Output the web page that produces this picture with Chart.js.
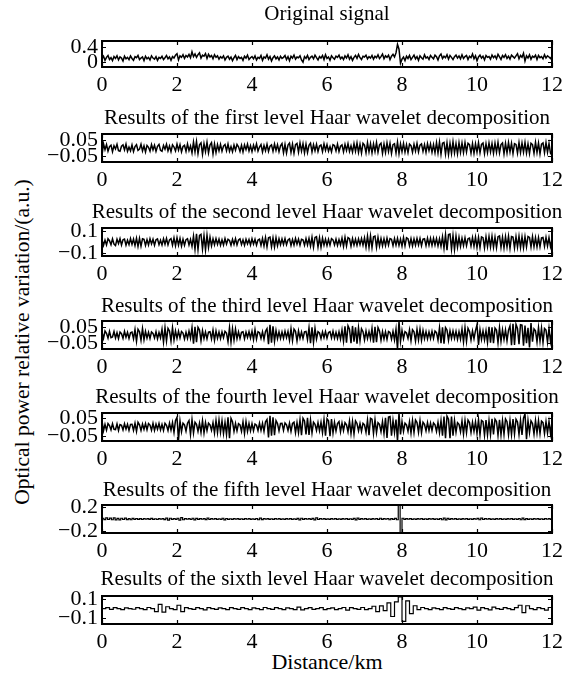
<!DOCTYPE html>
<html>
<head>
<meta charset="utf-8">
<script src="https://cdn.jsdelivr.net/npm/chart.js@4.4.1/dist/chart.umd.min.js"></script>
<style>
    body { margin: 0; background: #fff; width: 578px; height: 674px; position: relative; overflow: hidden; font-family: "Liberation Serif", "Times New Roman", serif; color: #000; }
    .panel { position: absolute; left: 0; width: 578px; }
    #ylab { position: absolute; left: 22px; top: 342px; transform: translate(-50%, -50%) rotate(-90deg); white-space: nowrap; font-size: 21.5px; }
    #xlab { position: absolute; left: 327px; top: 662px; transform: translate(-50%, -50%); white-space: nowrap; font-size: 22px; }
</style>
</head>
<body>
<div id="ylab">Optical power relative variation/(a.u.)</div>
<div id="xlab">Distance/km</div>
<script>
// distance axis (km)
var xTicks = [0, 2, 4, 6, 8, 10, 12];

var titles = [
    'Original signal',
    'Results of the first level Haar wavelet decomposition',
    'Results of the second level Haar wavelet decomposition',
    'Results of the third level Haar wavelet decomposition',
    'Results of the fourth level Haar wavelet decomposition',
    'Results of the fifth level Haar wavelet decomposition',
    'Results of the sixth level Haar wavelet decomposition'
];

// y tick values per panel
var yTicks0 = [0, 0.4];
var yTicks1 = [-0.05, 0.05];
var yTicks2 = [-0.1, 0.1];
var yTicks3 = [-0.05, 0.05];
var yTicks4 = [-0.05, 0.05];
var yTicks5 = [-0.2, 0.2];
var yTicks6 = [-0.1, 0.1];

// samples, evenly spaced over 0 .. 12 km
var original = [
    0.08,0.15,0.04,0.12,0.17,0.06,0.11,0.03,0.14,0.09,0.16,0.05,0.13,0.10,0.02,0.15,0.08,0.12,0.06,0.16,
    0.09,0.04,0.14,0.11,0.17,0.06,0.10,0.13,0.03,0.15,0.08,0.12,0.05,0.16,0.10,0.07,0.14,0.04,0.12,0.09,
    0.15,0.06,0.11,0.17,0.08,0.13,0.04,0.14,0.10,0.18,0.22,0.05,0.16,0.12,0.19,0.09,0.17,0.13,0.20,0.11,
    0.27,0.14,0.21,0.12,0.19,0.24,0.10,0.18,0.15,0.22,0.09,0.20,0.13,0.17,0.08,0.19,0.12,0.16,0.07,0.14,
    0.10,0.16,0.05,0.12,0.15,0.07,0.13,0.03,0.11,0.17,0.06,0.14,0.09,0.12,0.04,0.15,0.10,0.18,0.06,0.11,
    0.14,0.08,0.16,0.05,0.12,0.09,0.17,0.04,0.13,0.10,0.19,0.07,0.14,0.02,0.11,0.16,0.08,0.13,0.05,0.15,
    0.09,0.12,0.17,0.06,0.14,0.03,0.15,0.10,0.18,0.07,0.13,0.11,0.16,0.05,-0.01,0.14,0.09,0.17,0.06,0.12,
    0.15,0.08,0.18,0.11,0.05,0.14,0.10,0.17,0.06,0.19,0.09,0.13,0.04,0.16,0.11,0.07,0.15,0.12,0.18,0.08,
    0.13,0.06,0.16,0.10,0.19,0.07,0.14,0.04,0.12,0.17,0.09,0.20,0.11,0.06,0.15,0.13,0.18,0.08,0.14,0.10,
    0.17,0.07,0.15,0.11,0.19,0.09,0.14,0.21,0.08,0.16,0.12,0.18,0.06,0.15,0.20,0.13,0.24,0.47,0.34,-0.04,
    0.07,0.13,0.03,0.15,0.09,0.17,0.06,0.12,0.18,0.08,0.14,0.04,0.16,0.11,0.07,0.19,0.10,0.13,0.06,0.17,
    0.12,0.08,0.18,0.14,0.05,0.16,0.21,0.09,0.15,0.11,0.19,0.07,0.17,0.12,0.06,0.14,0.18,0.10,0.16,0.08,
    0.19,0.09,0.14,0.17,0.06,0.15,0.11,0.21,0.08,0.16,0.03,0.13,0.18,0.10,0.15,0.05,0.17,0.12,0.14,0.07,
    0.18,0.11,0.16,0.08,0.20,0.13,0.06,0.17,0.12,0.19,0.09,0.15,0.07,0.18,0.14,0.10,0.16,0.22,0.08,0.17,
    0.12,0.23,0.02,0.16,0.10,0.19,0.07,0.15,0.12,0.18,0.06,0.17,0.11,0.14,0.08,0.19,0.10,0.16,0.13,0.09,
    0.15
];

var level1 = [
    -0.045,0.026,-0.01,0.021,-0.019,0.008,0.017,-0.023,0.014,-0.006,0.022,-0.016,-0.02,0.011,0.019,-0.012,0.024,-0.02,0.005,-0.017,
    0.018,-0.022,0.009,0.02,-0.015,-0.007,0.023,-0.018,0.013,-0.024,0.016,0.004,-0.019,0.021,-0.011,0.017,-0.021,0.01,0.022,-0.014,
    -0.02,0.015,-0.008,0.023,-0.017,0.012,-0.022,0.019,0.006,-0.018,0.024,-0.013,0.02,-0.023,0.009,0.016,-0.02,0.025,-0.016,0.013,
    -0.03,0.036,-0.024,0.04,-0.034,0.02,0.031,-0.038,0.027,-0.022,0.035,-0.03,0.018,0.032,-0.036,0.025,-0.028,0.021,-0.017,0.022,
    -0.019,0.012,0.021,-0.016,0.024,-0.02,0.009,-0.023,0.018,-0.013,0.022,0.007,-0.021,0.016,-0.024,0.019,-0.01,0.023,-0.018,0.014,
    -0.022,0.017,-0.012,0.025,-0.019,0.006,0.021,-0.024,0.015,-0.017,0.023,-0.021,0.011,0.019,-0.02,0.024,-0.015,0.02,-0.023,0.013,
    0.027,-0.029,0.022,-0.031,0.018,0.03,-0.026,0.024,-0.032,0.02,0.028,-0.025,0.031,-0.019,0.026,-0.03,0.023,-0.028,0.016,0.029,
    -0.024,0.02,-0.017,0.023,-0.021,0.012,0.018,-0.022,0.025,-0.014,0.021,-0.019,0.009,-0.023,0.02,0.015,-0.018,0.024,-0.021,0.011,
    0.019,-0.023,0.022,-0.015,0.026,-0.021,0.013,-0.025,0.027,-0.02,0.03,-0.027,0.022,-0.031,0.028,0.017,-0.029,0.032,-0.024,0.026,
    -0.03,0.025,-0.022,0.033,-0.026,0.019,0.029,-0.032,0.024,-0.027,0.031,-0.021,0.028,-0.033,0.02,0.026,-0.03,0.036,-0.034,0.025,
    -0.022,0.027,-0.025,0.02,-0.028,0.024,0.014,-0.026,0.023,-0.019,0.028,-0.024,0.017,0.025,-0.021,0.02,-0.027,0.026,-0.016,0.024,
    -0.026,0.021,-0.029,0.032,-0.03,0.036,-0.038,0.029,0.034,-0.037,0.031,-0.04,0.028,-0.033,0.038,-0.03,0.026,-0.035,0.032,-0.027,
    0.03,-0.028,0.033,-0.024,0.029,0.02,-0.031,0.027,-0.033,0.025,-0.026,0.032,-0.029,0.022,0.03,-0.034,0.026,-0.028,0.031,-0.023,
    0.027,-0.032,0.03,-0.026,0.034,-0.029,0.021,0.031,-0.035,0.028,-0.03,0.033,-0.024,0.029,-0.034,0.027,0.022,-0.031,0.033,-0.028,
    0.03,-0.026,0.034,-0.031,0.025,-0.033,0.029,0.021,-0.032,0.035,-0.027,0.03,-0.035,0.024,0.031,-0.029,0.033,-0.026,0.028,-0.032,
    -0.045
];

var level2 = [
    0.024,-0.031,0.018,-0.027,0.03,0.012,-0.025,0.029,-0.02,-0.033,0.026,-0.015,0.031,-0.028,0.02,0.027,-0.03,0.016,-0.024,0.032,
    -0.022,0.028,-0.033,0.036,-0.04,0.034,-0.038,0.03,0.025,-0.032,0.022,-0.028,0.031,-0.018,0.026,-0.03,0.02,0.029,-0.025,0.017,
    -0.028,0.03,-0.021,0.034,-0.027,0.02,0.032,-0.03,0.038,-0.035,0.04,-0.029,0.033,-0.037,0.026,-0.03,0.022,0.031,-0.027,0.024,
    -0.04,0.055,-0.068,0.075,-0.07,0.062,0.072,-0.066,0.058,-0.074,0.064,-0.05,0.044,-0.036,0.03,-0.026,0.031,-0.022,0.027,-0.03,
    0.021,-0.028,0.032,-0.019,0.026,0.014,-0.03,0.025,-0.022,0.031,-0.027,0.018,0.029,-0.024,0.02,-0.031,0.026,-0.017,0.023,-0.028,
    0.03,-0.02,0.025,-0.029,0.018,0.027,-0.031,0.034,-0.036,0.042,-0.045,0.04,0.046,-0.044,0.038,-0.047,0.041,-0.035,0.03,-0.026,
    0.028,-0.023,0.031,-0.026,0.019,0.029,-0.032,0.024,-0.028,0.033,-0.021,0.027,-0.03,0.025,0.02,-0.029,0.032,-0.027,0.034,-0.038,
    0.044,-0.048,0.042,0.05,-0.046,0.04,-0.049,0.036,-0.03,0.027,-0.032,0.025,-0.029,0.031,0.02,-0.028,0.026,-0.031,0.023,-0.027,
    0.036,-0.04,0.044,-0.037,0.041,0.03,-0.038,0.032,-0.028,0.026,-0.031,0.029,-0.024,0.033,-0.03,0.038,-0.048,0.054,-0.05,0.057,
    -0.052,0.048,0.055,-0.05,0.044,-0.038,0.033,-0.035,0.03,-0.033,0.036,-0.028,0.031,0.025,-0.034,0.032,-0.029,0.035,-0.031,0.027,
    -0.038,0.042,-0.036,0.04,0.03,-0.034,0.031,-0.036,0.028,-0.03,0.033,-0.027,0.032,-0.035,0.026,0.03,-0.033,0.036,-0.029,0.034,
    -0.031,0.035,-0.028,0.033,-0.036,0.03,-0.04,0.048,-0.058,0.068,-0.076,0.07,0.074,-0.066,0.06,-0.07,0.054,-0.048,0.044,-0.04,
    0.036,-0.033,0.04,-0.035,0.031,0.037,-0.036,0.042,-0.039,0.046,-0.05,0.043,-0.052,0.047,0.04,-0.054,0.049,-0.044,0.051,-0.046,
    0.053,-0.049,0.045,-0.052,0.048,0.056,-0.05,0.044,-0.055,0.049,-0.046,0.053,-0.058,0.05,0.045,-0.055,0.05,-0.047,0.054,-0.051,
    0.048,-0.053,0.05,-0.045,0.052,0.043,-0.046,0.049,-0.044,0.04,-0.045,0.041,-0.043,0.038,0.042,-0.04,0.043,-0.037,0.04,-0.042,
    0.02
];

var level3 = [
    0.016,-0.02,0.024,0.01,-0.019,0.022,-0.016,-0.012,0.021,-0.018,0.014,-0.022,0.018,0.008,-0.02,0.023,-0.013,0.016,-0.021,0.014,
    0.018,-0.023,0.033,-0.038,0.035,0.02,-0.032,0.039,-0.028,0.022,-0.019,0.016,-0.021,0.019,0.01,-0.018,0.02,-0.023,0.015,-0.017,
    0.035,-0.043,0.045,-0.036,0.041,0.025,-0.037,0.044,-0.03,0.025,-0.02,0.023,-0.018,0.021,0.012,-0.024,0.017,-0.02,0.024,-0.019,
    0.045,-0.052,0.05,-0.044,0.047,0.03,-0.035,0.027,-0.021,0.019,-0.023,0.017,0.02,-0.024,0.03,-0.032,0.025,-0.02,0.018,-0.022,
    0.019,-0.016,0.022,0.012,-0.04,0.045,-0.043,0.038,-0.031,0.036,-0.022,0.019,-0.021,0.016,0.02,-0.023,0.018,-0.015,0.02,-0.019,
    0.023,-0.028,0.032,-0.025,0.02,0.014,-0.021,0.019,-0.025,0.022,0.038,-0.056,0.062,-0.047,0.052,-0.038,0.028,-0.022,0.019,-0.021,
    0.018,-0.02,0.023,-0.016,0.021,-0.032,0.038,-0.034,0.036,0.022,-0.035,0.025,-0.02,0.018,-0.021,0.019,0.022,-0.028,0.044,-0.05,
    0.047,-0.045,0.04,-0.025,0.02,0.012,-0.022,0.019,-0.016,0.021,-0.019,0.015,0.02,-0.018,0.023,-0.02,0.016,-0.021,0.019,-0.025,
    0.031,-0.038,0.052,-0.047,0.056,0.035,-0.05,0.055,-0.04,0.047,-0.052,0.044,-0.035,0.038,0.02,-0.03,0.025,-0.022,0.02,-0.024,
    0.04,-0.047,0.05,-0.044,0.046,0.025,-0.032,0.021,-0.024,0.02,-0.026,0.021,0.015,-0.025,0.022,-0.03,0.035,-0.085,0.085,-0.038,
    0.028,-0.022,0.02,0.012,-0.021,0.031,-0.035,0.032,0.02,-0.037,0.034,-0.03,0.036,-0.032,0.027,-0.022,0.02,-0.024,0.019,-0.021,
    0.022,-0.02,0.024,0.014,-0.031,0.044,-0.05,0.047,-0.052,0.045,0.03,-0.032,0.025,-0.021,0.024,-0.02,0.022,-0.026,0.021,-0.025,
    0.037,-0.042,0.045,-0.038,0.041,0.022,-0.03,0.025,-0.022,0.027,0.062,-0.06,0.032,-0.027,0.025,-0.03,0.026,-0.044,0.05,-0.046,
    0.047,-0.05,0.042,0.03,-0.047,0.045,-0.038,0.032,-0.027,0.031,-0.035,0.03,0.056,-0.062,0.068,-0.06,0.065,0.04,-0.056,0.062,
    0.06,-0.065,0.057,-0.05,0.044,-0.075,0.072,-0.04,0.037,0.025,-0.042,0.045,-0.037,0.042,-0.046,0.04,0.03,-0.044,0.041,-0.039,
    0.02
];

var level4 = [
    0.035,-0.022,0.015,-0.018,0.02,0.008,-0.016,0.019,-0.013,-0.015,0.018,-0.02,0.014,0.01,-0.017,0.019,-0.012,0.016,-0.019,0.015,
    0.016,-0.019,0.022,-0.025,0.027,0.012,-0.02,0.017,-0.014,0.019,-0.016,0.02,0.011,-0.018,0.021,-0.019,0.016,-0.013,0.02,-0.017,
    0.015,-0.019,0.021,0.01,-0.02,0.022,-0.018,0.025,-0.031,0.037,0.055,-0.075,0.035,-0.027,0.022,0.012,-0.024,0.022,0.037,-0.043,
    0.042,-0.034,0.027,0.015,-0.025,0.022,-0.031,0.037,-0.034,0.025,-0.02,0.022,0.012,-0.019,0.025,-0.034,0.037,-0.032,0.04,-0.03,
    0.035,-0.037,0.027,-0.043,0.055,-0.064,0.05,0.03,-0.025,0.02,-0.022,0.019,0.012,-0.025,0.03,-0.037,0.032,-0.025,0.02,-0.022,
    0.019,-0.021,0.017,0.01,-0.02,0.022,-0.019,0.021,-0.025,0.03,0.043,-0.06,0.064,-0.05,0.055,-0.047,0.037,0.02,-0.022,0.02,
    0.021,-0.019,0.023,0.012,-0.02,0.022,-0.025,0.02,0.027,-0.032,0.025,-0.032,0.04,-0.047,0.05,0.035,-0.043,0.052,-0.045,0.04,
    -0.034,0.027,0.015,-0.02,0.025,-0.022,0.027,-0.032,0.043,-0.05,0.047,0.035,-0.052,0.045,-0.034,0.027,-0.022,0.02,0.031,-0.027,
    0.022,-0.02,0.025,0.012,-0.027,0.034,-0.037,0.032,-0.04,0.035,0.02,-0.022,0.02,-0.024,0.021,0.012,-0.03,0.04,-0.047,0.05,
    0.045,-0.037,0.042,-0.032,0.025,0.015,-0.027,0.031,-0.037,0.052,-0.062,0.057,0.06,-0.05,0.037,-0.031,0.043,-0.08,0.08,-0.043,
    0.031,-0.025,0.022,0.012,-0.025,0.03,-0.035,0.037,-0.032,0.04,0.025,-0.031,0.037,-0.032,0.027,0.015,-0.022,0.025,-0.02,0.022,
    -0.02,0.023,0.012,-0.025,0.027,-0.032,0.037,-0.05,0.06,-0.064,0.062,0.045,-0.064,0.06,-0.05,0.037,-0.03,0.025,0.015,-0.027,
    0.035,-0.04,0.037,-0.032,0.04,0.025,-0.031,0.027,-0.025,0.03,-0.037,0.042,-0.045,0.037,0.03,-0.047,0.04,-0.045,0.037,-0.043,
    0.047,-0.042,0.045,0.032,-0.047,0.041,-0.045,0.037,-0.042,0.046,0.03,-0.044,0.037,-0.043,0.046,-0.04,0.044,0.028,-0.042,0.038,
    -0.045,0.05,0.075,-0.07,0.037,-0.032,0.035,0.02,-0.04,0.037,-0.034,0.036,-0.038,0.034,0.025,-0.037,0.031,-0.034,0.032,-0.037,
    0.03
];

var level5 = [
    0.012,-0.01,0.018,-0.008,0.015,-0.012,0.02,-0.014,0.01,-0.016,0.012,-0.008,0.014,-0.01,0.006,-0.012,0.01,-0.006,0.008,-0.005,
    0.006,-0.008,0.005,-0.004,0.007,-0.006,0.01,-0.005,0.004,-0.008,0.006,-0.004,0.005,-0.01,0.015,-0.02,0.012,-0.006,0.008,-0.005,
    0.012,-0.018,0.022,-0.012,0.006,-0.004,0.005,-0.008,0.012,-0.015,0.01,-0.006,0.005,-0.004,0.006,-0.01,0.014,-0.008,0.005,-0.004,
    0.006,-0.005,0.004,-0.006,0.012,-0.015,0.008,-0.005,0.004,-0.006,0.005,-0.004,0.006,-0.005,0.004,-0.006,0.005,-0.004,0.006,-0.005,
    0.004,-0.006,0.008,-0.012,0.016,-0.01,0.005,-0.004,0.006,-0.005,0.004,-0.006,0.005,-0.004,0.006,-0.005,0.004,-0.006,0.005,-0.004,
    0.006,-0.005,0.004,-0.006,0.01,-0.014,0.012,-0.006,0.005,-0.004,0.006,-0.005,0.01,-0.015,0.018,-0.008,0.005,-0.004,0.006,-0.005,
    0.004,-0.006,0.005,-0.004,0.006,-0.005,0.004,-0.006,0.005,-0.004,0.006,-0.005,0.004,-0.006,0.01,-0.016,0.014,-0.006,0.005,-0.004,
    0.006,-0.005,0.004,-0.006,0.005,-0.004,0.006,-0.008,0.012,-0.006,0.005,-0.004,0.008,-0.012,0.006,-0.005,0.01,-0.012,0.23,-0.23,
    0.012,-0.006,0.005,-0.004,0.006,-0.005,0.004,-0.006,0.005,-0.004,0.006,-0.005,0.004,-0.006,0.005,-0.004,0.006,-0.005,0.004,-0.006,
    0.008,-0.012,0.016,-0.014,0.01,-0.006,0.005,-0.004,0.006,-0.005,0.004,-0.006,0.005,-0.004,0.006,-0.005,0.004,-0.006,0.005,-0.004,
    0.01,-0.012,0.014,-0.008,0.005,-0.004,0.006,-0.005,0.004,-0.006,0.005,-0.004,0.006,-0.005,0.004,-0.006,0.005,-0.004,0.006,-0.005,
    0.004,-0.006,0.008,-0.012,0.016,-0.01,0.006,-0.005,0.004,-0.006,0.005,-0.004,0.006,-0.005,0.004,-0.006,0.005,-0.004,0.006,-0.005,
    0.005
];

var level6 = [
    0,0.01,-0.008,0.01,0,-0.01,0.008,0,-0.006,0.01,
    0,-0.01,0.012,0,-0.03,0.045,-0.035,0.02,0,-0.01,
    0.035,-0.03,0.01,0,-0.008,0.01,0,-0.012,0.01,0,
    -0.008,0.008,0,-0.01,0.01,0,-0.008,0.01,0,-0.01,
    0.008,0,-0.01,0.012,0,-0.008,0.01,0,-0.01,0.008,
    0,-0.01,0.015,-0.012,0,0.01,-0.008,0,0.01,-0.01,
    0,0.008,-0.01,0,0.012,-0.015,0.01,0,-0.008,0.012,
    -0.01,0,0.025,-0.03,0.028,-0.02,0.06,-0.08,0.07,0.12,
    -0.13,0.08,-0.05,0.03,-0.01,0.012,0,-0.01,0.008,0,
    -0.01,0.01,0,-0.008,0.01,0,-0.01,0.008,0,0.015,
    -0.015,0.01,0,-0.012,0.015,0,-0.008,0.01,0,-0.01,
    0.01,0.035,-0.04,0.03,0,-0.01,0.01,0,-0.015,0.012,
    0
];

var series = [original, level1, level2, level3, level4, level5, level6];
var yTickSets = [yTicks0, yTicks1, yTicks2, yTicks3, yTicks4, yTicks5, yTicks6];
var yRanges = [[-0.14, 0.56], [-0.085, 0.085], [-0.13, 0.13], [-0.085, 0.085], [-0.08, 0.08], [-0.23, 0.23], [-0.157, 0.13]];
var steppedFlags = [false, false, false, false, false, true, true];
var lineWidths = [1.5, 1.5, 1.5, 1.5, 1.5, 1.2, 1.2];

// plot box (top, bottom) on the page and title centre line
var boxes = [[41, 67], [134, 162], [228, 256], [321, 349], [413, 441], [505, 533], [596, 624]];
var titleY = [14, 118, 212, 306, 397, 490, 579];

var BOX_LEFT = 102, BOX_RIGHT = 552, PAD_TOP = 40, PAD_BOTTOM = 32;
var TITLE_FONT = '21px "Liberation Serif", serif';
var TICK_FONT = '22px "Liberation Serif", serif';

function fmt(v) {
    if (v === 0) return '0';
    return (v < 0 ? '\u2212' : '') + String(Math.abs(v));
}

var frame = {
    id: 'frame',
    afterDraw: function (chart, args, opts) {
        var ctx = chart.ctx, a = chart.chartArea;
        var xs = chart.scales.x, ys = chart.scales.y;
        ctx.save();
        ctx.strokeStyle = '#000';
        ctx.lineWidth = 2;
        ctx.strokeRect(a.left, a.top, a.right - a.left, a.bottom - a.top);
        ctx.lineWidth = 1.2;
        ctx.beginPath();
        xTicks.forEach(function (t) {
            var px = Math.round(xs.getPixelForValue(t)) + 0.5;
            ctx.moveTo(px, a.bottom); ctx.lineTo(px, a.bottom - 4);
            ctx.moveTo(px, a.top); ctx.lineTo(px, a.top + 4);
        });
        opts.yt.forEach(function (t) {
            var py = Math.round(ys.getPixelForValue(t)) + 0.5;
            ctx.moveTo(a.left, py); ctx.lineTo(a.left + 4, py);
            ctx.moveTo(a.right, py); ctx.lineTo(a.right - 4, py);
        });
        ctx.stroke();

        ctx.fillStyle = '#000';
        ctx.textBaseline = 'middle';
        ctx.font = TICK_FONT;
        ctx.textAlign = 'center';
        xTicks.forEach(function (t) {
            ctx.fillText(String(t), xs.getPixelForValue(t), a.bottom + 18);
        });
        ctx.textAlign = 'right';
        opts.yt.forEach(function (t) {
            ctx.fillText(fmt(t), a.left - 4, ys.getPixelForValue(t));
        });
        ctx.font = TITLE_FONT;
        ctx.textAlign = 'center';
        ctx.fillText(opts.title, (a.left + a.right) / 2, a.top - opts.titleGap);
        ctx.restore();
    }
};

series.forEach(function (vals, k) {
    var top = boxes[k][0], bottom = boxes[k][1];
    var canvas = document.createElement('canvas');
    canvas.className = 'panel';
    canvas.width = 578;
    canvas.height = bottom - top + PAD_TOP + PAD_BOTTOM;
    canvas.style.top = (top - PAD_TOP) + 'px';
    document.body.appendChild(canvas);

    var n = vals.length;
    var points = vals.map(function (v, i) { return { x: i * 12 / (n - 1), y: v }; });
    var yt = yTickSets[k];

    new Chart(canvas.getContext('2d'), {
        type: 'line',
        data: {
            datasets: [{
                data: points,
                borderColor: '#000',
                borderWidth: lineWidths[k],
                pointRadius: 0,
                tension: 0,
                stepped: steppedFlags[k]
            }]
        },
        options: {
            responsive: false,
            animation: false,
            events: [],
            layout: { padding: { top: PAD_TOP, right: 578 - BOX_RIGHT, left: 0, bottom: 0 } },
            plugins: {
                legend: { display: false },
                tooltip: { enabled: false },
                frame: { yt: yt, title: titles[k], titleGap: top - titleY[k] }
            },
            scales: {
                x: {
                    type: 'linear',
                    min: 0, max: 12,
                    afterBuildTicks: function (s) { s.ticks = xTicks.map(function (v) { return { value: v }; }); },
                    afterFit: function (s) { s.height = PAD_BOTTOM; },
                    grid: { display: false, drawTicks: false },
                    border: { display: false },
                    ticks: { display: false }
                },
                y: {
                    min: yRanges[k][0], max: yRanges[k][1],
                    afterBuildTicks: function (s) { s.ticks = yt.map(function (v) { return { value: v }; }); },
                    afterFit: function (s) { s.width = BOX_LEFT; },
                    grid: { display: false, drawTicks: false },
                    border: { display: false },
                    ticks: { display: false }
                }
            }
        },
        plugins: [frame]
    });
});
</script>
</body>
</html>
